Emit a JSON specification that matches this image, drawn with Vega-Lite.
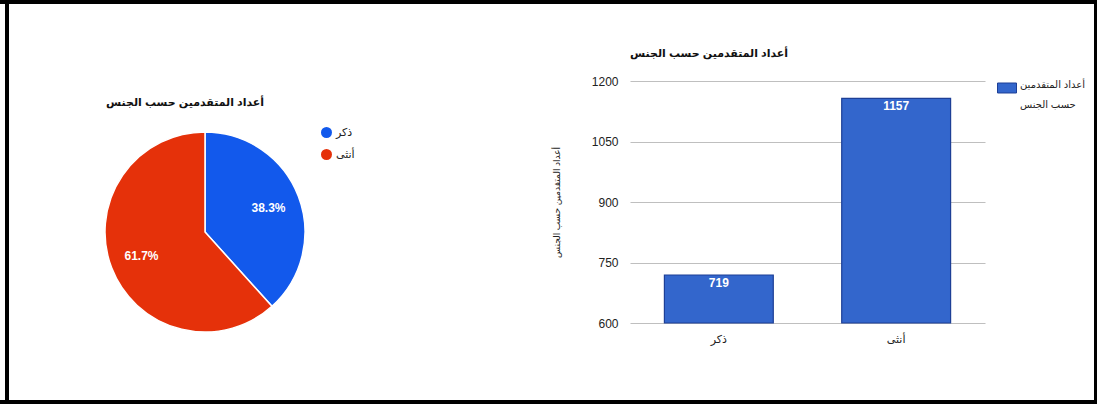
{
  "$schema": "https://vega.github.io/schema/vega-lite/v6.json",
  "background": "black",
  "padding": {"left": 0, "top": 4, "right": 3, "bottom": 4},
  "spacing": 0,
  "bounds": "flush",
  "resolve": {"scale": {"color": "independent"}, "legend": {"color": "independent"}},
  "hconcat": [
    {"width": 5, "height": 396, "data": {"values": []}, "mark": "rect", "view": {"fill": "white", "stroke": null}},
    {"width": 4, "height": 396, "data": {"values": []}, "mark": "rect", "view": {"fill": "black", "stroke": null}},
    {
      "width": 392,
      "height": 396,
      "view": {"fill": "white", "stroke": null},
      "title": {
        "text": "أعداد المتقدمين حسب الجنس",
        "anchor": "start",
        "frame": "group",
        "dx": 97,
        "fontSize": 11,
        "fontWeight": "bold",
        "color": "#111",
        "offset": -104
      },
      "data": {
        "values": [
          {"gender": "ذكر", "count": 719, "pct": "38.3%"},
          {"gender": "أنثى", "count": 1157, "pct": "61.7%"}
        ]
      },
      "encoding": {
        "theta": {"field": "count", "type": "quantitative", "stack": true},
        "order": {"field": "count", "sort": "ascending"}
      },
      "layer": [
        {
          "mark": {"type": "arc", "outerRadius": 100, "yOffset": 30, "stroke": "white", "strokeWidth": 1.5},
          "encoding": {
            "color": {
              "field": "gender",
              "type": "nominal",
              "sort": ["ذكر", "أنثى"],
              "scale": {"domain": ["ذكر", "أنثى"], "range": ["#1259ec", "#e5310a"]},
              "legend": {
                "title": null,
                "orient": "none",
                "legendX": 312,
                "legendY": 123,
                "padding": 0,
                "symbolType": "circle",
                "symbolSize": 121,
                "symbolStrokeWidth": 0,
                "rowPadding": 10,
                "labelFontSize": 11,
                "labelColor": "#222",
                "labelOffset": 4
              }
            }
          }
        },
        {
          "mark": {"type": "text", "radius": 68, "yOffset": 30, "fill": "white", "fontWeight": "bold", "fontSize": 12},
          "encoding": {"text": {"field": "pct"}}
        }
      ]
    },
    {"width": 229, "height": 396, "data": {"values": []}, "mark": "rect", "view": {"fill": "white", "stroke": null}},
    {
      "width": 464,
      "height": 396,
      "view": {"fill": "white", "stroke": null},
      "title": {
        "text": "أعداد المتقدمين حسب الجنس",
        "anchor": "start",
        "frame": "group",
        "fontSize": 11,
        "fontWeight": "bold",
        "color": "#111",
        "offset": -55
      },
      "data": {
        "values": [
          {"gender": "ذكر", "count": 719, "series": "أعداد المتقدمين حسب الجنس"},
          {"gender": "أنثى", "count": 1157, "series": "أعداد المتقدمين حسب الجنس"}
        ]
      },
      "encoding": {
        "x": {
          "field": "gender",
          "type": "nominal",
          "sort": ["ذكر", "أنثى"],
          "scale": {"range": [0, 355], "paddingInner": 0.386, "paddingOuter": 0.194},
          "axis": {
            "title": null,
            "labelAngle": 0,
            "ticks": false,
            "domain": false,
            "offset": -77,
            "labelPadding": 10,
            "labelFontSize": 11,
            "labelColor": "#222"
          }
        },
        "y": {
          "field": "count",
          "type": "quantitative",
          "scale": {"domain": [600, 1200], "range": [319, 77], "nice": false, "zero": false},
          "axis": {
            "values": [600, 750, 900, 1050, 1200],
            "format": "d",
            "title": "أعداد المتقدمين حسب الجنس",
            "titleFontSize": 9,
            "titleFontWeight": "normal",
            "titleColor": "#222",
            "titlePadding": 30,
            "labelFontSize": 12,
            "labelColor": "#222",
            "labelPadding": 12,
            "ticks": false,
            "domain": false,
            "gridColor": "#bfbfbf",
            "gridWidth": 1.2
          }
        }
      },
      "layer": [
        {
          "mark": {"type": "bar", "stroke": "#1d3f96", "strokeWidth": 1.2},
          "encoding": {
            "y2": {"datum": 600},
            "color": {
              "field": "series",
              "type": "nominal",
              "scale": {"range": ["#3366cc"]},
              "legend": {
                "title": null,
                "orient": "none",
                "legendX": 367,
                "legendY": 74,
                "padding": 0,
                "symbolType": "M-1,-0.526L1,-0.526L1,0.526L-1,0.526Z",
                "symbolSize": 361,
                "symbolStrokeColor": "#1d3f96",
                "symbolStrokeWidth": 1,
                "labelExpr": "['أعداد المتقدمين', 'حسب الجنس']",
                "labelBaseline": "alphabetic",
                "labelFontSize": 10,
                "labelColor": "#222",
                "labelOffset": 3
              }
            }
          }
        },
        {
          "mark": {"type": "text", "baseline": "top", "dy": 3, "fill": "white", "fontWeight": "bold", "fontSize": 12},
          "encoding": {"text": {"field": "count"}}
        }
      ]
    }
  ],
  "config": {
    "font": "Arial, Liberation Sans, DejaVu Sans, sans-serif",
    "view": {"stroke": null},
    "concat": {"spacing": 0},
    "style": {"guide-label": {"lineHeight": 20}}
  }
}
